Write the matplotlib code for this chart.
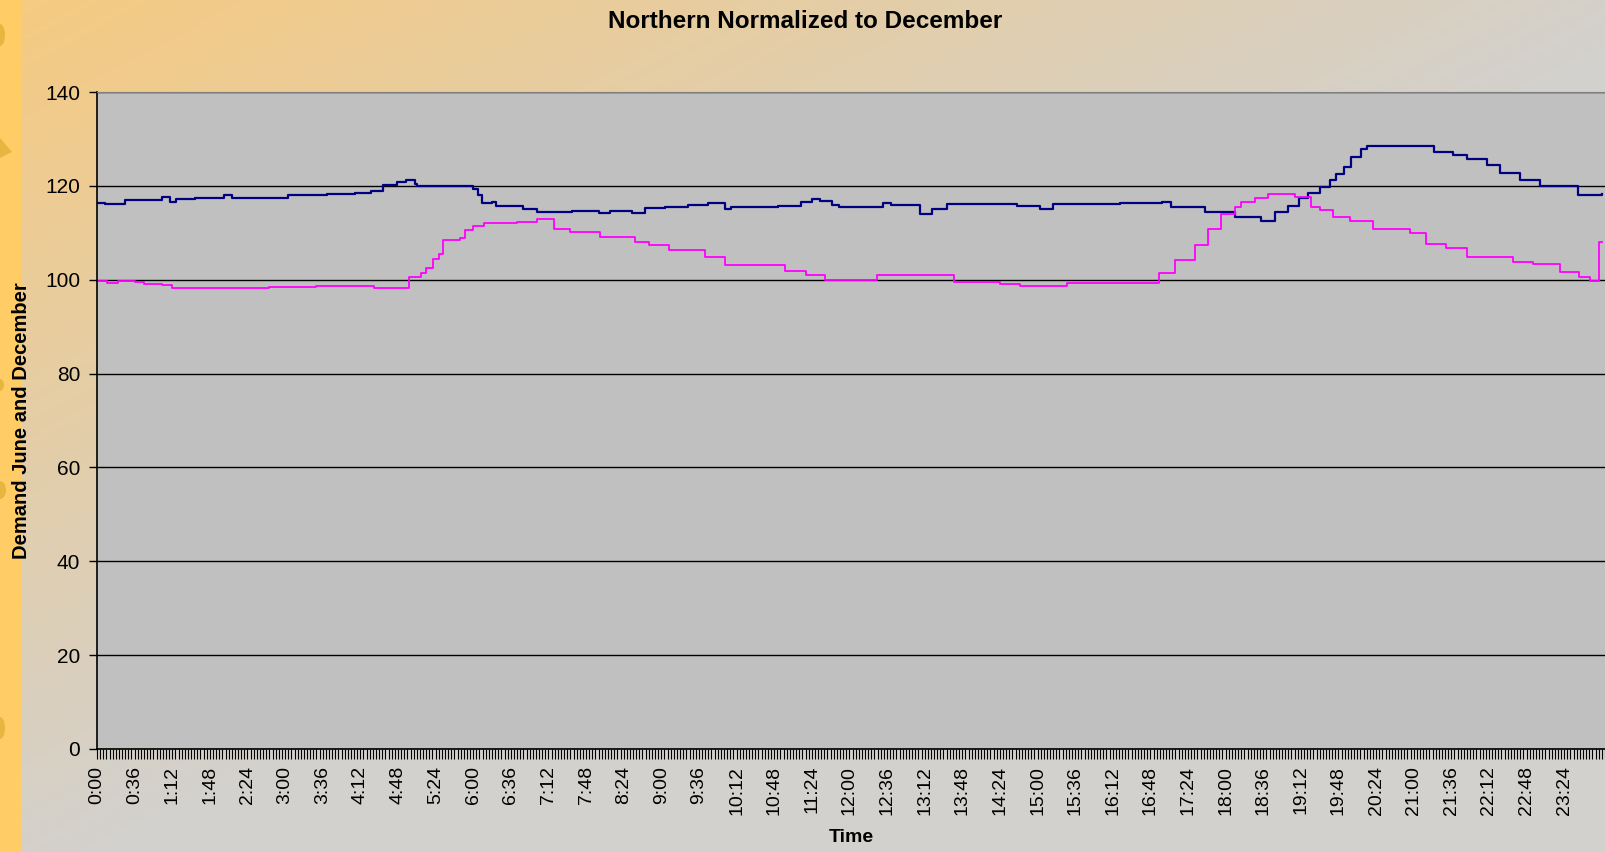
import numpy as np
import matplotlib
matplotlib.use('Agg')
import matplotlib.pyplot as plt
from matplotlib.patches import Ellipse, Polygon

plt.rcParams['font.family'] = ['Liberation Sans', 'DejaVu Sans']

# June demand normalised (navy) - breakpoints in minutes after midnight
june_min = [0, 8, 27, 62, 70, 76, 94, 122, 129, 183, 220, 247, 262, 274, 287, 296, 304, 306,
            360, 365, 368, 378, 382, 408, 421, 455, 480, 491, 512, 524, 544, 566, 585, 601,
            607, 652, 674, 684, 692, 703, 710, 735, 752, 760, 788, 799, 813, 880, 902, 915,
            979, 1019, 1028, 1060, 1089, 1114, 1127, 1140, 1150, 1159, 1170, 1180, 1186,
            1193, 1200, 1210, 1215, 1279, 1298, 1311, 1330, 1343, 1362, 1381, 1417, 1440]
june_val = [116.4, 116.2, 117.0, 117.6, 116.6, 117.1, 117.5, 118.0, 117.5, 118.1, 118.3,
            118.5, 119.0, 120.2, 120.9, 121.3, 120.5, 120.0, 119.3, 118.0, 116.3, 116.6,
            115.7, 115.1, 114.5, 114.7, 114.3, 114.6, 114.3, 115.2, 115.4, 115.9, 116.4,
            115.0, 115.4, 115.7, 116.5, 117.3, 116.8, 116.0, 115.4, 115.6, 116.3, 115.9,
            114.1, 115.0, 116.1, 115.7, 115.0, 116.2, 116.3, 116.6, 115.4, 114.4, 113.3,
            112.6, 114.5, 115.7, 117.5, 118.4, 119.8, 121.2, 122.5, 124.1, 126.2, 127.8,
            128.5, 127.3, 126.6, 125.7, 124.4, 122.8, 121.2, 120.0, 118.0, 118.2]

# December demand (magenta)
dec_min = [0, 10, 20, 36, 45, 62, 72, 120, 165, 210, 258, 265, 299, 310, 315, 322, 327, 331,
           347, 352, 360, 370, 402, 421, 437, 453, 481, 515, 528, 547, 582, 601, 658, 678,
           697, 746, 820, 864, 883, 928, 979, 1016, 1032, 1051, 1063, 1076, 1089, 1095, 1108,
           1121, 1146, 1162, 1170, 1183, 1199, 1221, 1256, 1272, 1291, 1311, 1355, 1374, 1400,
           1418, 1429, 1437, 1440]
dec_val = [99.8, 99.2, 99.8, 99.6, 99.0, 98.8, 98.2, 98.2, 98.4, 98.6, 98.7, 98.2, 100.6,
           101.5, 102.5, 104.5, 105.5, 108.5, 108.8, 110.5, 111.5, 112.0, 112.2, 112.9, 110.9,
           110.2, 109.2, 108.1, 107.4, 106.3, 104.9, 103.1, 101.9, 101.0, 99.9, 100.9, 99.5,
           99.1, 98.7, 99.2, 99.4, 101.5, 104.2, 107.4, 110.9, 114.1, 115.6, 116.6, 117.5,
           118.2, 117.7, 115.6, 114.9, 113.4, 112.6, 110.9, 109.9, 107.6, 106.7, 104.9, 103.8,
           103.3, 101.7, 100.6, 99.8, 108.1, 108.1]

tick_min = list(range(0, 1440, 36))
tick_labels = [f'{m // 60}:{m % 60:02d}' for m in tick_min]

fig = plt.figure(figsize=(16.06, 8.52), dpi=100)

# background gradient, orange top-left fading to grey
bg = fig.add_axes([0, 0, 1, 1], zorder=-10)
gx, gy = np.meshgrid(np.linspace(0, 1, 400), np.linspace(0, 1, 200))
t = np.clip((gx + gy) / 1.05, 0, 1)[..., None]
c0 = np.array([246, 202, 128]) / 255
c1 = np.array([211, 209, 205]) / 255
bg.imshow(c0 * (1 - t) + c1 * t, aspect='auto', extent=[0, 1, 1, 0])
bg.set_xlim(0, 1)
bg.set_ylim(1, 0)
bg.axis('off')

# orange strip on the left with blobs
bg.add_patch(plt.Rectangle((0, 0), 21 / 1606, 1, color='#FFCC66', lw=0))
for yy, w, h in [(35, 10, 22), (490, 12, 18), (728, 10, 22), (385, 8, 12)]:
    bg.add_patch(Ellipse((0, yy / 852), w / 1606, h / 852, color='#E6B640', lw=0))
bg.add_patch(Polygon([(0, 138 / 852), (12 / 1606, 152 / 852), (0, 158 / 852)],
                     closed=True, color='#E6B640', lw=0))

ax = fig.add_axes([97 / 1606, 103 / 852, 1 - 97 / 1606, 657 / 852])
ax.set_facecolor('#C0C0C0')

ax.plot(june_min, june_val, drawstyle='steps-post', color='#000080', lw=1.6)
ax.plot(dec_min, dec_val, drawstyle='steps-post', color='#FF00FF', lw=1.3)

ax.set_xlim(0, 1444)
ax.set_ylim(0, 140)
ax.set_yticks(range(0, 141, 20))
ax.yaxis.grid(True, color='#000000', lw=1)
ax.set_axisbelow(True)

ax.set_xticks(tick_min)
ax.set_xticklabels(tick_labels, rotation=90)
ax.set_xticks(range(0, 1444, 3), minor=True)
ax.tick_params(axis='x', which='both', direction='out', length=7, width=0.8, pad=5, labelsize=14)
ax.tick_params(axis='y', direction='out', length=6, width=1, labelsize=15, pad=6)

ax.spines['right'].set_visible(False)
ax.spines['top'].set_color('#808080')
ax.spines['left'].set_linewidth(1.2)
ax.spines['bottom'].set_linewidth(1.2)

ax.set_xlabel('Time', fontsize=14, fontweight='bold', labelpad=10)
ax.set_ylabel('Demand June and December', fontsize=14.5, fontweight='bold', labelpad=10)
fig.text(805 / 1606, 1 - 21 / 852, 'Northern Normalized to December', ha='center', va='center',
         fontsize=17.5, fontweight='bold')

fig.savefig('out.png', dpi=100)
